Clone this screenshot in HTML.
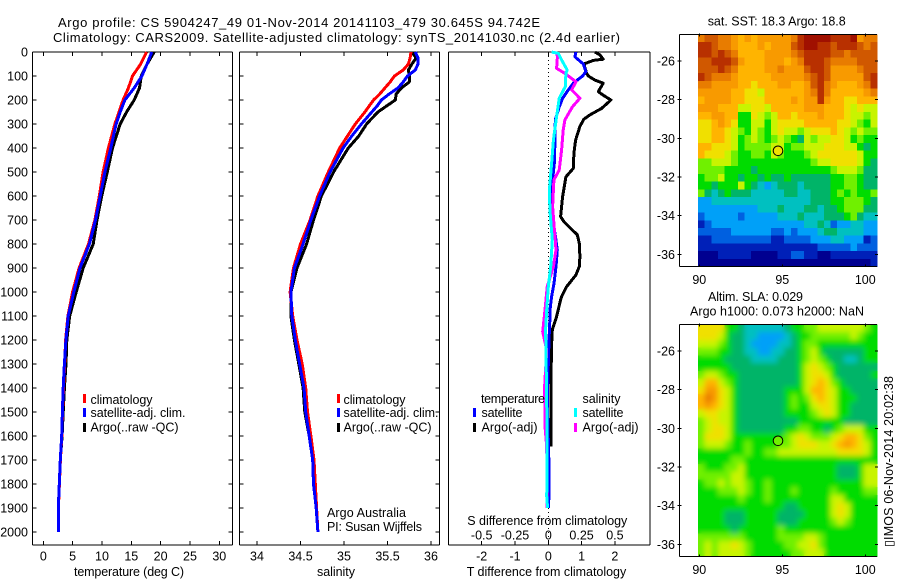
<!DOCTYPE html>
<html>
<head>
<meta charset="utf-8">
<title>Argo profile</title>
<style>
html,body{margin:0;padding:0;background:#fff}
svg{display:block}
text{font-family:"Liberation Sans",Arial,sans-serif;font-size:12.5px;fill:#000}
text.title{font-size:13px}
</style>
</head>
<body>
<svg id="chart" xmlns="http://www.w3.org/2000/svg" width="900" height="580" viewBox="0 0 900 580">
<defs>
<filter id="smooth" x="-5%" y="-5%" width="110%" height="110%"><feGaussianBlur stdDeviation="2.6"/></filter>
<clipPath id="slaClip"><rect x="698" y="324.5" width="179" height="232.2"/></clipPath>
</defs>
<rect width="900" height="580" fill="#fff"/>
<text class="title" x="58" y="27" textLength="482" lengthAdjust="spacing">Argo profile: CS 5904247_49 01-Nov-2014 20141103_479 30.645S 94.742E</text>
<text class="title" x="53" y="42" textLength="567" lengthAdjust="spacing">Climatology: CARS2009. Satellite-adjusted climatology: synTS_20141030.nc (2.4d earlier)</text>
<g id="panels"></g>

<g>
<rect x="83" y="394" width="3" height="9" fill="#f00"/>
<rect x="83" y="408" width="3" height="9" fill="#00f"/>
<rect x="83" y="423" width="3" height="9" fill="#000"/>
<text x="90.5" y="404" textLength="62">climatology</text>
<text x="90.5" y="417" textLength="95">satellite-adj. clim.</text>
<text x="90.5" y="431.5" textLength="88">Argo(..raw -QC)</text>
</g>
<g>
<rect x="337" y="394" width="3" height="9" fill="#f00"/>
<rect x="337" y="408" width="3" height="9" fill="#00f"/>
<rect x="337" y="423" width="3" height="9" fill="#000"/>
<text x="343.5" y="404" textLength="62">climatology</text>
<text x="343.5" y="417" textLength="95">satellite-adj. clim.</text>
<text x="343.5" y="431.5" textLength="88">Argo(..raw -QC)</text>
<text x="327" y="517" textLength="79">Argo Australia</text>
<text x="327" y="531" textLength="95">PI: Susan Wijffels</text>
</g>
<g>
<text x="481" y="403" textLength="64">temperature</text>
<text x="481.5" y="417" textLength="41">satellite</text>
<text x="481.5" y="431.5" textLength="56">Argo(-adj)</text>
<rect x="473" y="408" width="3" height="9" fill="#00f"/>
<rect x="473" y="423" width="3" height="9" fill="#000"/>
<text x="582.5" y="403" textLength="38">salinity</text>
<text x="582.5" y="417" textLength="41">satellite</text>
<text x="582.5" y="431.5" textLength="56">Argo(-adj)</text>
<rect x="574" y="408" width="3" height="9" fill="#0ff"/>
<rect x="574" y="423" width="3" height="9" fill="#f0f"/>
</g>

<text x="74" y="576" textLength="110">temperature (deg C)</text>
<text x="317" y="576" textLength="38">salinity</text>
<text x="467.3" y="525" textLength="160">S difference from climatology</text>
<text x="466.7" y="576" textLength="159.5">T difference from climatology</text>

<text x="707.7" y="25.7" textLength="138">sat. SST: 18.3 Argo: 18.8</text>
<text x="708" y="301" textLength="95">Altim. SLA: 0.029</text>
<text x="690" y="315.7" textLength="174">Argo h1000: 0.073 h2000: NaN</text>
<text transform="translate(893,547) rotate(-90)" x="0" y="0" textLength="171">▯IMOS 06-Nov-2014 20:02:38</text>
</svg>

<script>
// ---------- Profile panel data ----------
const tempDepths = [0,50,100,150,200,250,300,400,500,600,700,800,900,1000,1100,1200,1300,1400,1500,1600,1700,1800,1900,2000];
const tempClimatology = [17.6,16.6,15.2,14.5,13.6,12.9,12.2,11.1,10.2,9.55,8.8,7.7,6.1,5.0,4.2,3.8,3.65,3.45,3.28,3.15,2.92,2.75,2.58,2.56];
const tempSatellite = [18.5,17.7,16.8,15.5,13.9,13.1,12.4,11.5,10.5,9.7,8.9,7.85,6.25,5.2,4.25,3.85,3.6,3.4,3.25,3.13,2.9,2.73,2.56,2.56];
const tempArgo = [18.9,17.7,16.7,16.4,15.5,14.2,13.1,11.8,10.9,9.95,9.15,8.5,6.8,5.6,4.5,4.0,3.87,3.6,3.4,3.2,2.9,2.73,2.56,2.56];

const salDepths = [0,25,50,75,100,125,150,175,200,225,250,300,350,400,500,600,700,800,900,1000,1100,1200,1300,1400,1500,1600,1700,1800,1900,2000];
const salClimatology = [35.77,35.76,35.74,35.68,35.58,35.53,35.47,35.41,35.34,35.29,35.24,35.13,35.04,34.95,34.82,34.70,34.61,34.50,34.42,34.38,34.41,34.46,34.52,34.56,34.58,34.62,34.655,34.67,34.685,34.7];
const salSatellite = [35.82,35.85,35.85,35.82,35.73,35.68,35.62,35.52,35.43,35.38,35.32,35.2,35.09,34.99,34.84,34.72,34.62,34.53,34.43,34.39,34.40,34.44,34.49,34.54,34.56,34.6,34.64,34.65,34.68,34.7];
const salArgo = [35.78,35.83,35.78,35.74,35.75,35.75,35.66,35.6,35.59,35.49,35.39,35.26,35.17,35.05,34.88,34.74,34.65,34.57,34.46,34.39,34.39,34.43,34.48,34.53,34.55,34.6,34.64,34.65,34.68,34.7];

const dtArgoDepths = [0,12,30,35,50,89,100,117,130,165,180,200,235,262,280,310,367,422,485,520,603,686,707,762,797,853,894,929,978,1019,1033,1102,1158,1242,1644];
const dtArgo = [1.4,1.55,1.65,1.35,1.07,1.15,1.2,1.4,1.65,1.5,1.65,1.88,1.6,1.25,1.07,0.95,0.82,0.77,0.75,0.53,0.43,0.37,0.47,0.87,0.93,0.95,0.93,0.83,0.55,0.4,0.37,0.25,0.12,0.09,0.08];
const dtSatDepths = [0,20,50,82,100,130,158,193,228,283,367,464,533,603,672,756,825,894,964,1019,1075,1102,1200,1450,1728,1850,1900];
const dtSatellite = [0.83,0.8,1.05,1.13,1.03,0.75,0.6,0.43,0.33,0.21,0.2,0.18,0.13,0.1,0.1,0.2,0.27,0.23,0.17,0.1,0.05,0.05,0.02,-0.03,0.02,0.02,0];
const dsArgoDepths = [0,20,68,89,124,158,193,228,283,325,408,492,533,644,714,825,894,978,1075,1102,1165,1242,1394,1560,1644,1900];
const dsArgo = [0.062,0.068,0.062,0.125,0.208,0.175,0.237,0.182,0.125,0.112,0.1,0.082,0.042,0.032,0.042,0.058,0.038,-0.008,-0.025,-0.03,-0.042,-0.012,-0.028,-0.025,-0.012,-0.008];
const dsSatDepths = [0,6,33,75,89,144,193,269,367,464,575,658,783,894,978,1075,1158,1450,1728,1850,1900];
const dsSatellite = [0.025,0.075,0.1,0.142,0.132,0.128,0.082,0.062,0.038,0.025,0.008,0.012,0.03,0.018,0,-0.012,-0.02,-0.012,-0.008,-0.012,-0.005];

const depthTicks = [0,100,200,300,400,500,600,700,800,900,1000,1100,1200,1300,1400,1500,1600,1700,1800,1900,2000];
const tempTicks = [0,5,10,15,20,25,30];
const salTicks = [34,34.5,35,35.5,36];
const dtTicks = [-2,-1,0,1,2];
const dsTickValues = [-0.5,-0.25,0,0.25,0.5];
const dsTickLabels = ["-0.5","-0.25","0","0.25","0.5"];

// ---------- Map data: colour level per cell, rows north to south ----------
const mapLonTicks = [90,95,100];
const mapLatTicks = [-26,-28,-30,-32,-34,-36];
const argoLon = 94.742;
const argoLat = -30.645;
const argoSstLevel = 9;
const argoSlaLevel = 7;
const sstLevels = [
[12,13,13,12,12,11,10,11,10,11,11,11,11,11,12,14,15,15,15,15,14,14,14,15,11,12,12],
[14,14,13,12,12,11,10,10,10,11,10,11,11,11,13,14,15,15,14,14,13,14,14,14,13,12,13],
[14,14,13,14,13,12,10,10,10,10,11,11,11,11,12,13,14,14,14,14,13,13,12,13,13,13,13],
[13,13,14,14,14,13,11,10,10,10,11,11,11,10,11,12,14,14,14,13,12,12,12,12,13,13,13],
[13,13,13,14,13,12,10,10,10,10,11,11,12,11,11,11,13,14,14,13,11,11,11,11,12,13,13],
[14,13,12,12,12,11,10,10,10,10,10,11,11,11,11,11,12,13,14,13,11,11,11,11,11,13,14],
[12,12,11,11,11,11,10,10,9,10,10,10,11,11,10,10,11,13,14,12,11,10,10,10,11,12,14],
[11,11,11,11,11,10,10,9,9,8,10,10,10,10,10,10,11,12,14,12,10,10,10,10,10,11,12],
[10,11,11,11,11,10,10,9,9,9,10,10,10,10,11,10,11,11,14,11,10,10,9,9,10,10,10],
[11,11,11,10,10,10,8,8,9,9,8,10,10,10,10,10,11,11,11,10,10,10,9,8,9,8,8],
[10,10,11,11,10,10,6,6,9,8,7,8,10,10,9,10,10,10,11,10,10,10,9,8,8,7,8],
[9,9,10,11,10,9,6,6,8,8,6,8,9,9,9,9,10,10,10,10,10,9,9,8,7,6,8],
[9,9,10,10,9,8,7,6,8,7,6,8,9,8,8,7,8,9,9,9,10,9,8,7,8,7,7],
[9,9,10,10,9,8,6,7,8,7,6,7,8,7,6,5,8,7,8,8,9,9,8,6,7,6,6],
[10,10,9,9,9,8,6,7,7,7,7,8,8,6,7,7,8,8,8,9,9,9,8,8,6,5,6],
[10,9,9,9,8,7,6,6,7,7,6,8,7,6,6,6,7,8,9,9,9,9,9,9,8,6,6],
[7,7,8,8,8,7,6,6,6,6,6,6,6,6,6,6,6,7,8,8,9,9,9,9,8,6,5],
[7,7,7,7,6,6,6,6,5,6,6,6,6,6,6,6,6,6,6,6,7,8,8,8,7,5,5],
[6,7,7,8,6,6,5,6,6,5,6,5,5,6,5,5,5,5,5,5,6,6,7,7,6,5,5],
[6,6,5,6,6,6,8,6,5,4,3,4,5,5,5,4,5,5,5,5,6,6,7,7,6,5,5],
[7,5,4,5,6,5,5,5,4,4,4,4,4,5,5,4,4,5,5,5,6,7,6,7,6,6,7],
[3,3,4,4,4,4,4,4,4,4,4,4,4,4,4,4,4,5,5,5,6,6,7,7,7,6,5],
[3,3,3,3,3,3,3,3,3,4,4,4,5,4,4,4,5,5,4,5,5,6,7,7,7,5,5],
[2,3,3,3,3,3,2,3,3,3,3,3,4,4,4,5,4,4,4,5,5,5,6,7,5,4,4],
[1,2,3,3,3,3,3,3,3,3,3,3,3,3,3,3,4,4,5,4,2,3,3,4,4,3,3],
[2,2,2,2,2,3,3,3,3,3,3,2,2,3,2,3,3,3,4,5,5,4,4,4,4,3,3],
[1,1,2,2,2,2,2,2,2,2,2,1,1,2,2,2,2,3,3,3,4,4,3,3,3,1,2],
[1,1,1,1,1,1,1,1,1,1,1,1,1,1,1,1,1,1,2,2,2,2,2,3,2,2,2],
[0,0,0,1,1,1,1,1,0,0,0,0,1,1,2,2,1,1,0,0,1,1,1,1,1,1,1],
[0,0,0,0,0,0,0,0,0,0,0,0,0,0,0,0,0,0,0,0,0,0,0,0,0,0,1]
];
const slaLevels = [
[9,9,9,9,6,6,5,4,4,4,4,4,4,5,6,6,7,7,8,8,8,8,8,8,8,7,6],
[9,9,9,8,6,5,5,4,4,3,3,3,3,4,5,6,6,7,7,7,7,7,7,8,7,6,6],
[8,8,8,7,6,5,5,4,3,3,3,3,4,4,5,6,7,7,6,6,6,6,6,6,6,6,6],
[7,7,7,6,6,5,5,4,4,3,3,4,4,5,5,6,7,8,6,5,5,5,5,5,5,6,6],
[6,6,6,6,5,5,5,5,4,4,4,4,5,5,5,6,7,8,7,6,5,5,4,4,5,6,6],
[6,6,6,6,6,5,5,5,5,5,5,5,5,5,5,6,8,9,8,7,6,5,5,5,5,5,5],
[7,8,8,7,6,6,5,5,5,5,5,5,5,5,5,6,8,9,9,8,6,5,5,5,5,5,6],
[8,10,10,8,7,6,5,5,5,5,5,5,5,5,5,6,8,9,10,9,7,6,5,5,5,5,5],
[9,11,11,9,8,6,5,5,5,5,5,5,5,6,6,6,8,10,10,9,8,6,6,5,5,5,5],
[10,12,11,9,8,6,5,5,5,5,5,5,5,6,7,6,7,9,10,9,8,6,6,6,5,5,5],
[10,11,10,9,8,6,5,5,5,5,5,5,5,6,7,6,6,8,9,9,8,6,6,5,5,5,5],
[8,9,9,8,8,6,5,5,5,5,5,5,5,6,6,6,6,7,8,9,8,6,6,5,5,5,5],
[7,8,9,8,8,6,5,5,5,5,5,5,5,5,5,6,6,6,6,6,6,6,5,5,5,5,5],
[7,8,9,9,8,6,5,5,5,5,5,5,5,6,6,7,7,6,6,5,6,7,8,8,8,6,6],
[7,9,9,9,8,6,6,6,6,6,6,6,6,7,8,9,8,7,7,7,8,9,10,10,9,7,6],
[7,8,8,8,7,6,6,7,6,6,6,6,7,7,8,9,9,9,8,8,9,10,11,10,9,8,6],
[6,6,6,6,6,6,6,7,6,6,7,7,8,8,8,8,8,8,8,8,8,9,9,9,9,8,6],
[6,6,6,6,6,7,7,6,6,6,6,6,6,6,6,6,6,6,6,6,6,6,6,6,6,6,6],
[7,6,6,6,7,7,8,6,6,6,6,6,6,6,6,6,6,6,6,6,6,5,5,5,6,8,8],
[7,7,7,7,7,8,8,6,6,6,6,6,6,6,6,6,6,6,6,6,6,5,5,5,6,8,8],
[6,7,7,8,7,8,8,7,6,6,7,6,6,6,6,6,6,6,6,6,6,6,6,6,6,8,8],
[6,6,6,7,7,7,8,7,6,6,7,6,6,6,7,6,6,6,6,6,7,6,6,6,6,7,7],
[6,6,6,6,6,6,7,6,6,6,7,6,6,6,6,6,6,6,6,6,8,8,6,6,6,6,6],
[6,6,6,6,6,6,6,6,6,6,6,6,6,5,5,6,6,6,6,6,8,9,8,6,6,6,6],
[6,6,6,6,5,5,5,6,6,6,6,6,5,5,5,5,6,6,6,6,8,9,8,6,6,6,6],
[6,6,6,6,5,5,5,6,6,6,6,6,5,5,5,6,6,6,6,6,7,8,7,6,6,6,6],
[6,6,6,6,6,5,6,6,6,6,6,6,7,6,6,6,6,6,6,6,6,6,6,6,6,6,6],
[7,7,7,7,7,7,7,6,6,6,6,6,7,7,7,7,8,8,7,6,6,6,6,6,6,6,6],
[7,8,7,8,8,9,8,7,6,6,6,6,6,7,7,8,8,9,7,6,6,6,6,6,6,6,6],
[7,8,7,8,8,8,8,7,6,6,6,6,6,6,7,7,8,8,8,6,6,6,6,6,6,6,6]
];
const levelColors = ["#000090","#0020b8","#0060e0","#00a0f8","#00c0c0","#00b468","#00dc00","#70f000","#c8f400","#f0e000","#ffb400","#f89a00","#e87c00","#d05800","#b83000","#a01000"];

// ---------- Axis functions ----------
const NS = "http://www.w3.org/2000/svg";
const panels = document.getElementById("panels");
const yDepth = d => 52 + 0.24 * d;
const xTemp = t => 43.3 + 5.867 * t;
const xSal = s => 257 + 87 * (s - 34);
const xDT = t => 548.3 + 33.3 * t;
const xDS = s => 548.3 + 133.2 * s;

function node(tag, attrs, parent) {
  const el = document.createElementNS(NS, tag);
  for (const k in attrs) el.setAttribute(k, attrs[k]);
  (parent || panels).appendChild(el);
  return el;
}
function hline(x1, y1, x2, y2, parent) {
  const el = node("line", {x1: x1, y1: y1, x2: x2, y2: y2, stroke: "#000", "stroke-width": 1, "shape-rendering": "crispEdges"}, parent);
  
  
  return el;
}
function label(str, x, y, anchor, parent) {
  const el = node("text", {x: x, y: y, "text-anchor": anchor}, parent);
  el.textContent = str;
  
  
  return el;
}
function drawSeries(name, color, width, depths, values, xFn) {
  const pts = depths.map((d, i) => xFn(values[i]).toFixed(1) + "," + yDepth(d).toFixed(1)).join(" ");
  const el = node("polyline", {points: pts, fill: "none", stroke: color, "stroke-width": width, "stroke-linejoin": "round", "shape-rendering": "crispEdges"});
  
  
}
function drawFrame(left, right, ticks, xFn, tickStrs, depthSideTicks, depthLabels) {
  const top = 52, bottom = 545;
  hline(left, top, right, top);
  hline(left, bottom, right, bottom);
  hline(left, top, left, bottom);
  hline(right, top, right, bottom);
  ticks.forEach((t, i) => {
    const x = xFn(t);
    hline(x, top, x, top + 4);
    hline(x, bottom - 4, x, bottom);
    label(tickStrs[i], x, 560.7, "middle");
  });
  if (depthSideTicks) {
    depthTicks.forEach(d => {
      const y = yDepth(d);
      hline(left, y, left + 4, y);
      hline(right - 4, y, right, y);
      if (depthLabels) label(String(d), 28, y + 4.5, "end");
    });
  }
}

// ---------- Temperature panel ----------
drawFrame(32.5, 232.5, tempTicks, xTemp, tempTicks.map(String), true, true);
drawSeries("temperature-argo-line", "#000", 3, tempDepths, tempArgo, xTemp);
drawSeries("temperature-climatology-line", "#f00", 3, tempDepths, tempClimatology, xTemp);
drawSeries("temperature-satellite-line", "#00f", 3, tempDepths, tempSatellite, xTemp);

// ---------- Salinity panel ----------
drawFrame(239.5, 439.5, salTicks, xSal, salTicks.map(String), true, false);
drawSeries("salinity-argo-line", "#000", 3, salDepths, salArgo, xSal);
drawSeries("salinity-climatology-line", "#f00", 3, salDepths, salClimatology, xSal);
drawSeries("salinity-satellite-line", "#00f", 3, salDepths, salSatellite, xSal);

// ---------- Difference panel ----------
drawFrame(448.5, 650, dtTicks, xDT, dtTicks.map(String), false, false);
dsTickValues.forEach((s, i) => label(dsTickLabels[i], xDS(s), 539.3, "middle"));
const zeroLine = node("line", {x1: xDT(0), y1: 52, x2: xDT(0), y2: 545, stroke: "#000", "stroke-width": 1, "stroke-dasharray": "1 3", "shape-rendering": "crispEdges"});


drawSeries("t-difference-argo-line", "#000", 3, dtArgoDepths, dtArgo, xDT);
drawSeries("t-difference-satellite-line", "#00f", 3, dtSatDepths, dtSatellite, xDT);
drawSeries("s-difference-argo-line", "#f0f", 3, dsArgoDepths, dsArgo, xDS);
drawSeries("s-difference-satellite-line", "#0ff", 3, dsSatDepths, dsSatellite, xDS);

// ---------- Maps ----------
function drawMap(mapName, levels, top, bottom, lat26y, pointLevel, smoothed) {
  const group = node("g", {});
  
  
  const left = 679.5, right = 877, dataLeft = 698;
  const xLon = lon => 699.3 + 16.6 * (lon - 90);
  const yLat = lat => lat26y + 19.33 * (-26 - lat);
  const cw = (right - dataLeft) / levels[0].length;
  const ch = (bottom - top) / levels.length;
  const cells = node("g", {id: mapName + "-cells"}, group);
  
  
  levels.forEach((row, r) => {
    row.forEach((v, c) => {
      const cell = node("rect", {x: (dataLeft + c * cw).toFixed(2), y: (top + r * ch).toFixed(2), width: (cw + 0.4).toFixed(2), height: (ch + 0.4).toFixed(2), fill: levelColors[v], "shape-rendering": "crispEdges"}, cells);
      
      
    });
  });
  if (smoothed) {
    const clip = node("g", {"clip-path": "url(#slaClip)"}, group);
    
    
    const soft = node("use", {href: "#" + mapName + "-cells", filter: "url(#smooth)"}, clip);
    
    
  }
  hline(left, top, right, top, group);
  hline(left, bottom, right, bottom, group);
  hline(left, top, left, bottom, group);
  mapLonTicks.forEach(lon => {
    const x = xLon(lon);
    hline(x, top - 1, x, top + 2, group);
    hline(x, bottom - 2, x, bottom, group);
    label(String(lon), x, bottom + 17.5, "middle", group);
  });
  mapLatTicks.forEach(lat => {
    const y = yLat(lat);
    hline(left - 2, y, left + 2, y, group);
    hline(right - 2, y, right + 1, y, group);
    label(String(lat), 675, y + 4.5, "end", group);
  });
  const marker = node("circle", {cx: xLon(argoLon), cy: yLat(argoLat), r: 4.8, fill: levelColors[pointLevel], stroke: "#000", "stroke-width": 1}, group);
  
  
}
drawMap("sst-map", sstLevels, 34.5, 266.7, 61, argoSstLevel, false);
drawMap("sla-map", slaLevels, 324.5, 556.7, 351, argoSlaLevel, true);
</script>
</body>
</html>
